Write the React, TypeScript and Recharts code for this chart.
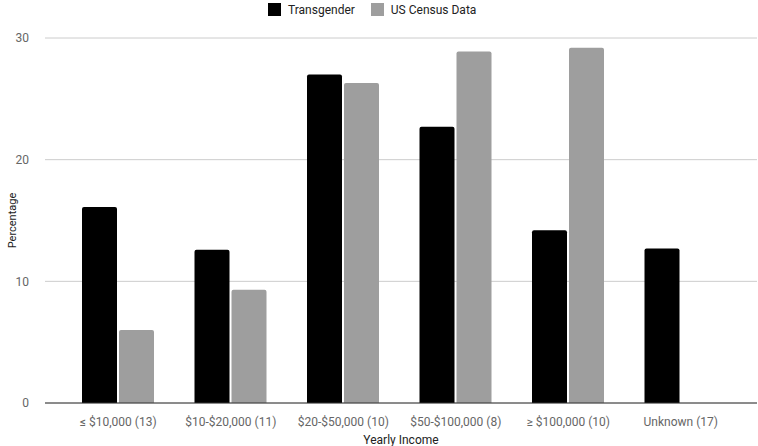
import React from 'react';
import {
  BarChart,
  Bar,
  XAxis,
  YAxis,
  CartesianGrid,
  Legend,
} from 'recharts';

const incomeGroups = [
  '≤ $10,000 (13)',
  '$10-$20,000 (11)',
  '$20-$50,000 (10)',
  '$50-$100,000 (8)',
  '≥ $100,000 (10)',
  'Unknown (17)',
];
const transgender = [16.1, 12.6, 27.0, 22.7, 14.2, 12.7];
const censusData = [6.0, 9.3, 26.3, 28.9, 29.2, 0];
const yTicks = [0, 10, 20, 30];

const FONT = 'Roboto, "Noto Sans", sans-serif';

const chartData = incomeGroups.map((name, i) => ({
  name,
  transgender: transgender[i],
  census: censusData[i],
}));

const legendItems = [
  { label: 'Transgender', color: '#000000' },
  { label: 'US Census Data', color: '#9e9e9e' },
];

// custom legend so it sits where the original one does
const LegendContent = () => (
  <div
    style={{
      display: 'flex',
      alignItems: 'center',
      height: 13,
      fontFamily: FONT,
      fontSize: 12,
      color: '#222',
      paddingLeft: 268,
    }}
  >
    {legendItems.map((item, i) => (
      <div
        key={item.label}
        style={{ display: 'flex', alignItems: 'center', marginRight: i === 0 ? 16 : 0 }}
      >
        <span
          style={{
            display: 'inline-block',
            width: 13,
            height: 13,
            background: item.color,
            marginRight: 7,
          }}
        />
        {item.label}
      </div>
    ))}
  </div>
);

export default function App() {
  return (
    <div style={{ position: 'absolute', left: 0, top: 0, width: 758, height: 446, background: '#fff' }}>
      <BarChart
        width={758}
        height={446}
        data={chartData}
        margin={{ top: 25, right: 1, left: 0, bottom: 0 }}
        barGap={2}
        style={{ fontFamily: FONT }}
      >
        <CartesianGrid vertical={false} stroke="#cccccc" />
        <Legend
          verticalAlign="top"
          content={<LegendContent />}
          wrapperStyle={{ top: 3, left: 0, width: 758 }}
        />
        <XAxis
          dataKey="name"
          height={43}
          padding={{ left: 17, right: 20 }}
          tickLine={false}
          axisLine={{ stroke: '#333333' }}
          tick={{ fill: '#666666', fontSize: 12 }}
          tickMargin={8}
          interval={0}
          label={{ value: 'Yearly Income', position: 'insideBottom', offset: 2, fill: '#222', fontSize: 12 }}
        />
        <YAxis
          width={45}
          domain={[0, 30]}
          ticks={yTicks}
          tickLine={false}
          axisLine={false}
          tick={{ fill: '#666666', fontSize: 12 }}
          tickMargin={10}
          label={{
            value: 'Percentage',
            angle: -90,
            position: 'insideLeft',
            offset: 12,
            fill: '#222',
            fontSize: 11,
            style: { textAnchor: 'middle' },
          }}
        />
        <Bar dataKey="transgender" name="Transgender" fill="#000000" barSize={35} radius={[2, 2, 0, 0]} isAnimationActive={false} />
        <Bar dataKey="census" name="US Census Data" fill="#9e9e9e" barSize={35} radius={[2, 2, 0, 0]} isAnimationActive={false} />
      </BarChart>
    </div>
  );
}
